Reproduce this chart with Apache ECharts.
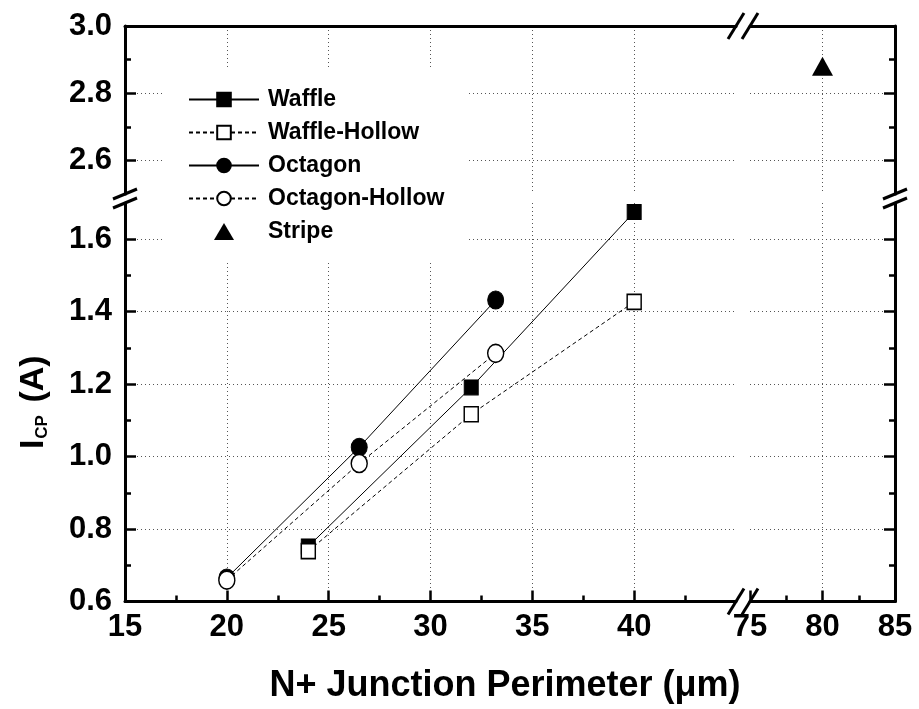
<!DOCTYPE html>
<html>
<head>
<meta charset="utf-8">
<script src="https://cdn.jsdelivr.net/npm/echarts@6/dist/echarts.min.js"></script>
<style>
  html, body { margin: 0; padding: 0; background: #fff; }
  #main { width: 919px; height: 709px; }
</style>
</head>
<body>
<div id="main"></div>
<script>
// data
var waffleX = [24, 32, 40];
var waffleY = [0.752, 1.191, 1.675];
var waffleHollowY = [0.739, 1.117, 1.427];
var octagonX = [20, 26.5, 33.2];
var octagonY = [0.665, 1.026, 1.432];
var octagonHollowY = [0.659, 0.981, 1.285];
var stripeX = [80];
var stripeY = [2.88];

// tick labels of the broken axes
var leftXTicks = [15, 20, 25, 30, 35, 40];
var rightXTicks = [75, 80, 85];
var lowerYTicks = [0.6, 0.8, 1.0, 1.2, 1.4, 1.6];
var upperYTicks = [2.6, 2.8, 3.0];

// layout of the four panels (pixels)
var L = 125, XB1 = 736, XB2 = 750, R = 895;
var T = 26, YB1 = 194, YB2 = 203, B = 601.5;

var FONT = 'Liberation Sans';

function pairs(xs, ys) {
  return xs.map(function (x, i) { return [x, ys[i]]; });
}

var lineCol = '#000';
var axisLine = { show: true, onZero: false, lineStyle: { color: lineCol, width: 3 } };
var splitStyle = { color: '#555', width: 1, type: [1, 3] };
var labelStyle = { color: '#000', fontSize: 31, fontWeight: 'bold', fontFamily: FONT };

function xAxis(grid, min, max, ticks, bottom) {
  return {
    type: 'value', gridIndex: grid, min: min, max: max, interval: 5,
    position: bottom ? 'bottom' : 'top',
    axisLine: axisLine,
    axisTick: { show: bottom, inside: true, length: 11, customValues: ticks,
      lineStyle: { color: lineCol, width: 2.5 } },
    minorTick: { show: bottom, splitNumber: 2, length: 6,
      lineStyle: { color: lineCol, width: 2.5 } },
    axisLabel: Object.assign({ show: bottom, margin: 10, customValues: ticks }, labelStyle),
    splitLine: { show: true, showMinLine: false, showMaxLine: ticks[ticks.length - 1] < max,
      lineStyle: splitStyle }
  };
}

function yAxis(grid, min, max, ticks, left, upper) {
  var ax = {
    type: 'value', gridIndex: grid, min: min, max: max,
    position: left ? 'left' : 'right',
    axisLine: axisLine,
    axisTick: { show: true, inside: true, length: 11, customValues: ticks,
      lineStyle: { color: lineCol, width: 2.5 } },
    minorTick: { show: true, splitNumber: 2, length: 6,
      lineStyle: { color: lineCol, width: 2.5 } },
    axisLabel: Object.assign({ show: left, margin: 13, customValues: ticks,
      formatter: function (v) { return v.toFixed(1); } }, labelStyle),
    splitLine: { show: true, showMinLine: !!upper, showMaxLine: !upper, lineStyle: splitStyle }
  };
  if (upper) { ax.minInterval = 0.2; ax.maxInterval = 0.2; } else { ax.interval = 0.2; }
  return ax;
}

function slash(cx, cy, dx, dy) {
  return { type: 'line', z: 100, silent: true,
    shape: { x1: cx - dx, y1: cy + dy, x2: cx + dx, y2: cy - dy },
    style: { stroke: '#000', lineWidth: 3 } };
}

var chart = echarts.init(document.getElementById('main'), null, { renderer: 'canvas' });

var hollowStyle = { color: '#fff', borderColor: '#000', borderWidth: 1.5, opacity: 1 };
var filledStyle = { color: '#000', borderColor: '#000', borderWidth: 1, opacity: 1 };

chart.setOption({
  animation: false,
  backgroundColor: '#fff',
  grid: [
    { left: L, top: YB2, width: XB1 - L, height: B - YB2, outerBoundsMode: 'none' },
    { left: XB2, top: YB2, width: R - XB2, height: B - YB2, outerBoundsMode: 'none' },
    { left: L, top: T, width: XB1 - L, height: YB1 - T, outerBoundsMode: 'none' },
    { left: XB2, top: T, width: R - XB2, height: YB1 - T, outerBoundsMode: 'none' }
  ],
  xAxis: [
    xAxis(0, 15, 45, leftXTicks, true),
    xAxis(1, 75, 85, rightXTicks, true),
    xAxis(2, 15, 45, leftXTicks, false),
    xAxis(3, 75, 85, rightXTicks, false)
  ],
  yAxis: [
    Object.assign(yAxis(0, 0.6, 1.7, lowerYTicks, true, false), {
      name: '{a|I}{b|CP}{a| (A)}',
      nameLocation: 'middle',
      nameGap: 74,
      nameTextStyle: {
        fontFamily: FONT, fontWeight: 'bold', color: '#000',
        rich: {
          a: { fontSize: 34, fontWeight: 'bold', fontFamily: FONT, lineHeight: 34, verticalAlign: 'top' },
          b: { fontSize: 17, fontWeight: 'bold', fontFamily: FONT, lineHeight: 17,
               verticalAlign: 'bottom', padding: [22, 3, 0, 1] }
        }
      }
    }),
    yAxis(1, 0.6, 1.7, lowerYTicks, false, false),
    yAxis(2, 2.5, 3.0, upperYTicks, true, true),
    yAxis(3, 2.5, 3.0, upperYTicks, false, true)
  ],
  legend: {
    orient: 'vertical', left: 165, top: 70,
    padding: [18, 24, 18, 23],
    backgroundColor: '#fff',
    itemWidth: 70, itemHeight: 17, itemGap: 10,
    selectedMode: false,
    textStyle: { color: '#000', fontSize: 23, fontWeight: 'bold', fontFamily: FONT, padding: [0, 0, 0, 4] },
    data: [
      'Waffle', 'Waffle-Hollow', 'Octagon', 'Octagon-Hollow',
      // triangle kept small in the middle of the 70px icon box
      { name: 'Stripe', icon: 'path://M0,0M70,17M25,17L35,0L45,17Z' }
    ]
  },
  series: [
    { name: 'Waffle', type: 'line', xAxisIndex: 0, yAxisIndex: 0,
      data: pairs(waffleX, waffleY), symbol: 'rect', symbolSize: [14, 15],
      itemStyle: filledStyle, lineStyle: { color: '#000', width: 1 } },
    { name: 'Waffle-Hollow', type: 'line', xAxisIndex: 0, yAxisIndex: 0,
      data: pairs(waffleX, waffleHollowY), symbol: 'rect', symbolSize: [14, 15],
      itemStyle: hollowStyle, lineStyle: { color: '#000', width: 1, type: [4, 3] } },
    { name: 'Octagon', type: 'line', xAxisIndex: 0, yAxisIndex: 0,
      data: pairs(octagonX, octagonY), symbol: 'circle', symbolSize: [16, 18],
      itemStyle: filledStyle, lineStyle: { color: '#000', width: 1 } },
    { name: 'Octagon-Hollow', type: 'line', xAxisIndex: 0, yAxisIndex: 0,
      data: pairs(octagonX, octagonHollowY), symbol: 'circle', symbolSize: [16, 18],
      itemStyle: hollowStyle, lineStyle: { color: '#000', width: 1, type: [4, 3] } },
    { name: 'Stripe', type: 'scatter', xAxisIndex: 3, yAxisIndex: 3,
      data: pairs(stripeX, stripeY), symbol: 'triangle', symbolSize: [21, 19],
      itemStyle: { color: '#000', opacity: 1 } }
  ],
  graphic: [
    // axis break marks
    slash(XB1, B, 8, 13), slash(XB2, B, 8, 13),
    slash(XB1, T, 8, 13), slash(XB2, T, 8, 13),
    slash(L, YB1, 12, 5), slash(L, YB2, 12, 5),
    slash(R, YB1, 12, 5), slash(R, YB2, 12, 5),
    { type: 'text', x: (L + R) / 2 - 5, y: 686, z: 100, silent: true,
      style: { text: 'N+ Junction Perimeter (\u03bcm)', fill: '#000', font: 'bold 36px "Liberation Sans"',
        textAlign: 'center', textVerticalAlign: 'middle', align: 'center', verticalAlign: 'middle' } }
  ]
});
</script>
</body>
</html>
